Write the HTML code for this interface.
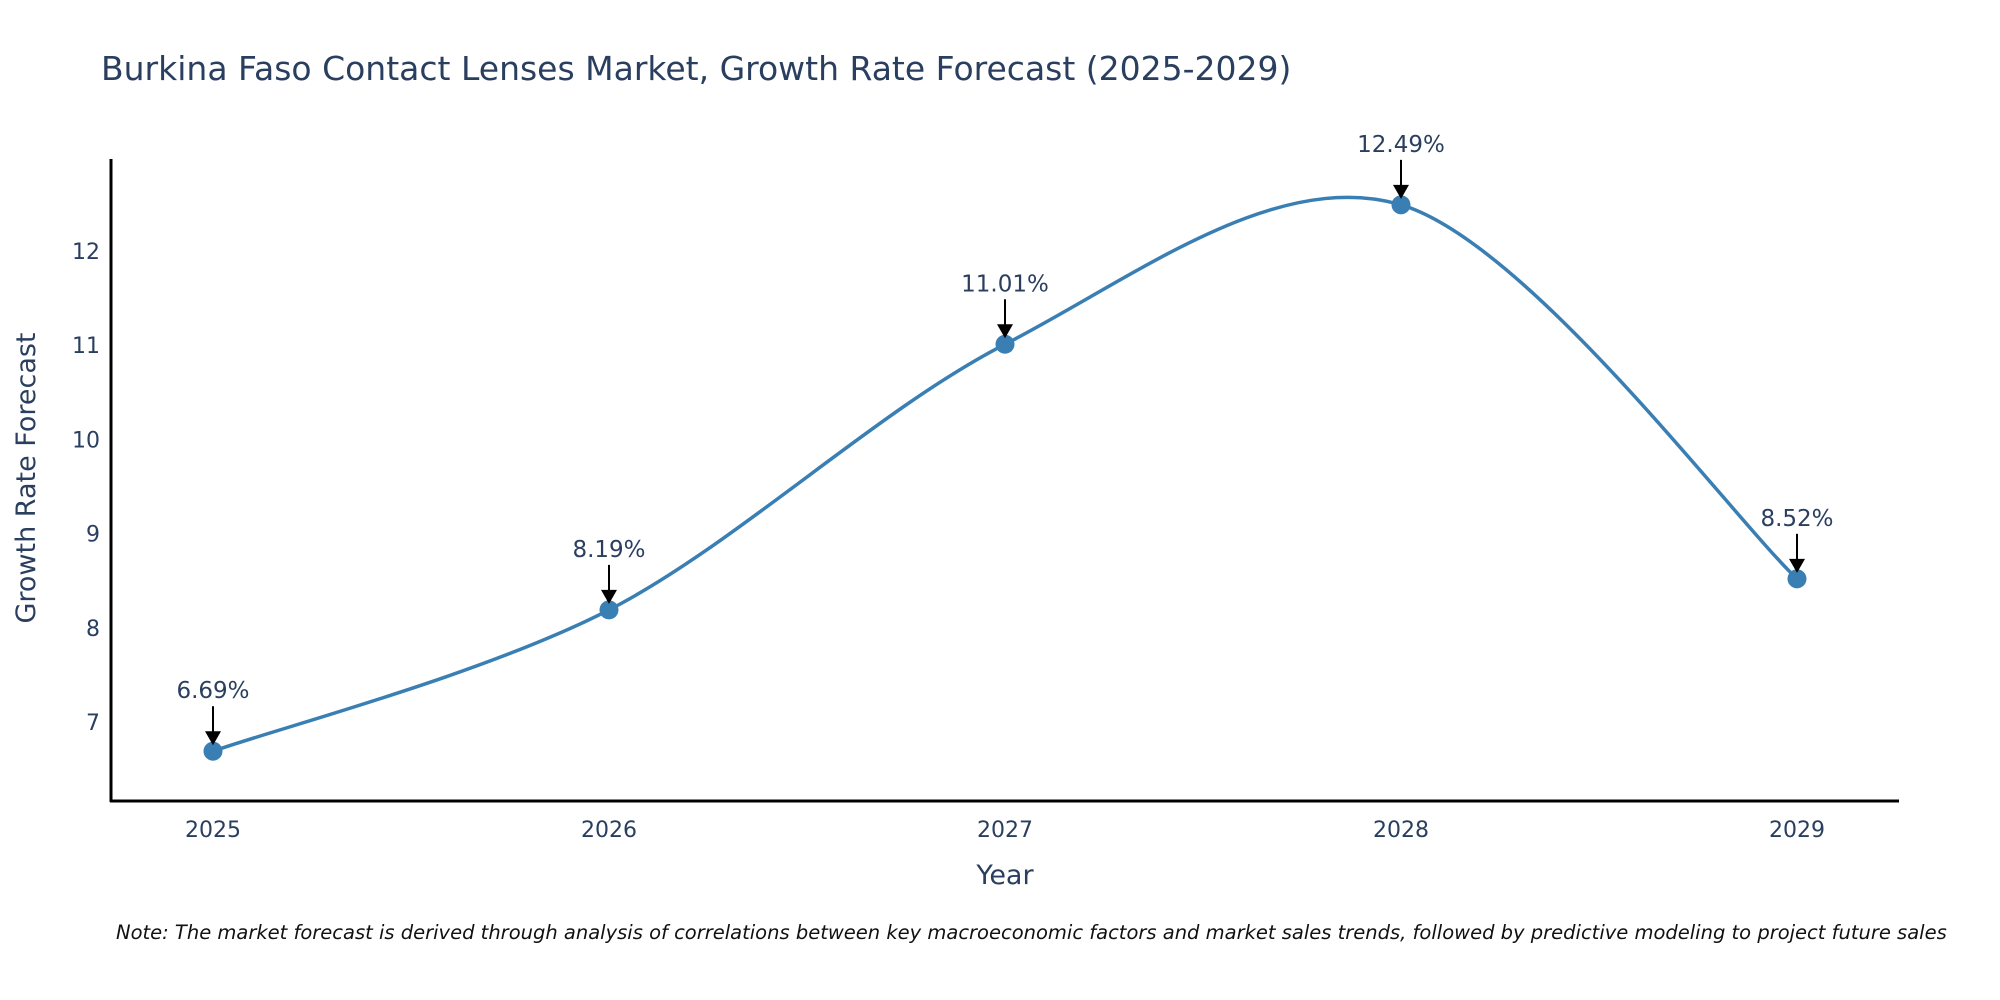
<!DOCTYPE html>
<html><head><meta charset="utf-8"><style>
body{margin:0;background:#fff}
svg{display:block;font-family:"DejaVu Sans","Liberation Sans",sans-serif}
</style></head><body>
<svg id="chart" width="2000" height="1000" viewBox="0 0 2000 1000">
<text x="101" y="80" font-size="33" fill="#2a3f5f">Burkina Faso Contact Lenses Market, Growth Rate Forecast (2025-2029)</text>
<g id="yticks"></g>
<g id="xticks"></g>
<path id="line" fill="none" stroke="#3a7fb4" stroke-width="3.5"/>
<g id="points"></g>
<g id="annots"></g>
<line x1="111" y1="159" x2="111" y2="802" stroke="#000" stroke-width="3"/>
<line x1="110" y1="801" x2="1899" y2="801" stroke="#000" stroke-width="3"/>
<text x="1005" y="884" font-size="27" fill="#2a3f5f" text-anchor="middle">Year</text>
<text transform="translate(35,478) rotate(-90)" font-size="27" fill="#2a3f5f" text-anchor="middle">Growth Rate Forecast</text>
<text x="116" y="939" font-size="19.5" font-style="italic" fill="#111">Note: The market forecast is derived through analysis of correlations between key macroeconomic factors and market sales trends, followed by predictive modeling to project future sales</text>
</svg>
<script>
const years=["2025","2026","2027","2028","2029"];
const values=[6.69,8.19,11.01,12.49,8.52];
const labels=["6.69%","8.19%","11.01%","12.49%","8.52%"];
const yTicks=[7,8,9,10,11,12];
const NS="http://www.w3.org/2000/svg";
function X(i){return 213+i*396;}
function Y(v){return 722-(v-7)*94.2;}
function mk(t,a,p){const e=document.createElementNS(NS,t);for(const k in a)e.setAttribute(k,a[k]);p.appendChild(e);return e;}
const yt=document.getElementById('yticks');
yTicks.forEach(v=>{const t=mk('text',{x:100,y:Y(v)+8,'font-size':22,fill:'#2a3f5f','text-anchor':'end'},yt);t.textContent=v;

});
const xt=document.getElementById('xticks');
years.forEach((y,i)=>{const t=mk('text',{x:X(i),y:837,'font-size':22,fill:'#2a3f5f','text-anchor':'middle'},xt);t.textContent=y;

});
const P=values.map((v,i)=>[X(i),Y(v)]);
let d=`M${P[0][0]},${P[0][1]}`;const s=0.16;
for(let i=0;i<P.length-1;i++){const p0=P[Math.max(i-1,0)],p1=P[i],p2=P[i+1],p3=P[Math.min(i+2,P.length-1)];
const c1=[p1[0]+(p2[0]-p0[0])*s,p1[1]+(p2[1]-p0[1])*s],c2=[p2[0]-(p3[0]-p1[0])*s,p2[1]-(p3[1]-p1[1])*s];
d+=` C${c1[0]},${c1[1]} ${c2[0]},${c2[1]} ${p2[0]},${p2[1]}`;}
document.getElementById('line').setAttribute('d',d);
const pg=document.getElementById('points'),ag=document.getElementById('annots');
P.forEach((p,i)=>{const c=mk('circle',{cx:p[0],cy:p[1],r:9.5,fill:'#3a7fb4'},pg);


const l=mk('line',{x1:p[0],y1:p[1]-45,x2:p[0],y2:p[1]-18,stroke:'#000','stroke-width':2},ag);


const h=mk('polygon',{points:`${p[0]-8},${p[1]-20} ${p[0]+8},${p[1]-20} ${p[0]},${p[1]-6}`,fill:'#000'},ag);


const t=mk('text',{x:p[0],y:p[1]-53,'font-size':23,fill:'#2a3f5f','text-anchor':'middle'},ag);t.textContent=labels[i];

});
</script>
</body></html>
